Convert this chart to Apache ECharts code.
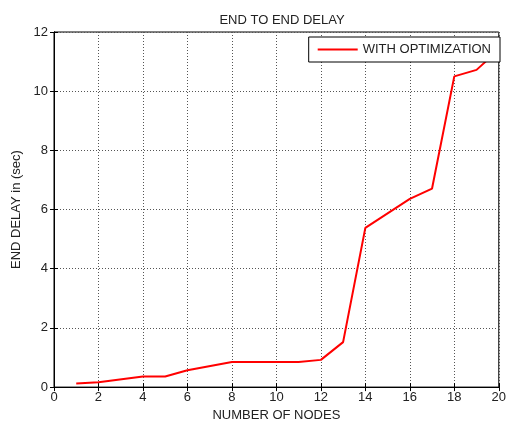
<!DOCTYPE html>
<html>
<head>
<meta charset="utf-8">
<script src="https://cdn.jsdelivr.net/npm/echarts@6/dist/echarts.min.js"></script>
<style>
  html, body { margin: 0; padding: 0; background: #fff; }
  #chart { width: 509px; height: 427px; }
</style>
</head>
<body>
<div id="chart"></div>
<script>
// values (vertices of the curve)
var nodes = [1, 2, 4, 5, 6, 8, 11, 12, 13, 14, 16, 17, 18, 19, 20]
var delay = [0.12, 0.16, 0.36, 0.36, 0.57, 0.85, 0.85, 0.92, 1.52, 5.38, 6.36, 6.71, 10.5, 10.72, 11.4]
var seriesName = 'WITH OPTIMIZATION'

var points = nodes.map(function (n, i) { return [n, delay[i]] })

var font = 'Liberation Sans, Arial, sans-serif'
var textColor = '#222'

var chart = echarts.init(document.getElementById('chart'))

// grid lines in matlab style: dotted grey
var gridLine = {
  show: true,
  lineStyle: { color: '#555', type: [1, 2], width: 1 }
}

var option = {
  animation: false,
  backgroundColor: '#fff',
  title: {
    text: 'END TO END DELAY',
    left: 277,
    top: 9,
    textAlign: 'center',
    textStyle: { fontFamily: font, fontSize: 13, fontWeight: 'normal', color: textColor }
  },
  legend: {
    right: 9,
    top: 37,
    orient: 'horizontal',
    backgroundColor: '#fff',
    borderColor: '#000',
    borderWidth: 1,
    borderRadius: 0,
    padding: [6, 9, 6, 9],
    icon: 'rect',
    itemWidth: 40,
    itemHeight: 2,
    itemGap: 5,
    textStyle: { fontFamily: font, fontSize: 13, color: textColor },
    data: [seriesName]
  },
  grid: {
    left: 54,
    right: 6,
    top: 32,
    bottom: 35,
    show: true,
    borderColor: '#000',
    borderWidth: 1
  },
  xAxis: [
    {
      type: 'value',
      min: 0,
      max: 20,
      interval: 2,
      name: 'NUMBER OF NODES',
      nameLocation: 'middle',
      nameGap: 19,
      nameTextStyle: { fontFamily: font, fontSize: 13, color: textColor },
      axisLine: { show: true, lineStyle: { color: '#000', width: 1 } },
      axisTick: { show: true, inside: true, length: 4, lineStyle: { color: '#000' } },
      axisLabel: { fontFamily: font, fontSize: 13, color: textColor, margin: 4 },
      splitLine: gridLine
    },
    {
      type: 'value',
      position: 'top',
      min: 0,
      max: 20,
      interval: 2,
      axisLine: { show: true, lineStyle: { color: '#000', width: 1 } },
      axisTick: { show: true, inside: true, length: 4, lineStyle: { color: '#000' } },
      axisLabel: { show: false },
      splitLine: { show: false }
    }
  ],
  yAxis: [
    {
      type: 'value',
      min: 0,
      max: 12,
      interval: 2,
      name: 'END DELAY in (sec)',
      nameLocation: 'middle',
      nameGap: 25,
      nameTextStyle: { fontFamily: font, fontSize: 13, color: textColor },
      axisLine: { show: true, lineStyle: { color: '#000', width: 1 } },
      axisTick: { show: true, inside: true, length: 4, lineStyle: { color: '#000' } },
      axisLabel: { fontFamily: font, fontSize: 13, color: textColor, margin: 6 },
      splitLine: gridLine
    },
    {
      type: 'value',
      position: 'right',
      min: 0,
      max: 12,
      interval: 2,
      axisLine: { show: true, lineStyle: { color: '#000', width: 1 } },
      axisTick: { show: true, inside: true, length: 4, lineStyle: { color: '#000' } },
      axisLabel: { show: false },
      splitLine: { show: false }
    }
  ],
  series: [
    {
      name: seriesName,
      type: 'line',
      data: points,
      symbol: 'none',
      clip: true,
      itemStyle: { color: '#ff0000' },
      lineStyle: { color: '#ff0000', width: 2 }
    }
  ]
}

chart.setOption(option)
</script>
</body>
</html>
